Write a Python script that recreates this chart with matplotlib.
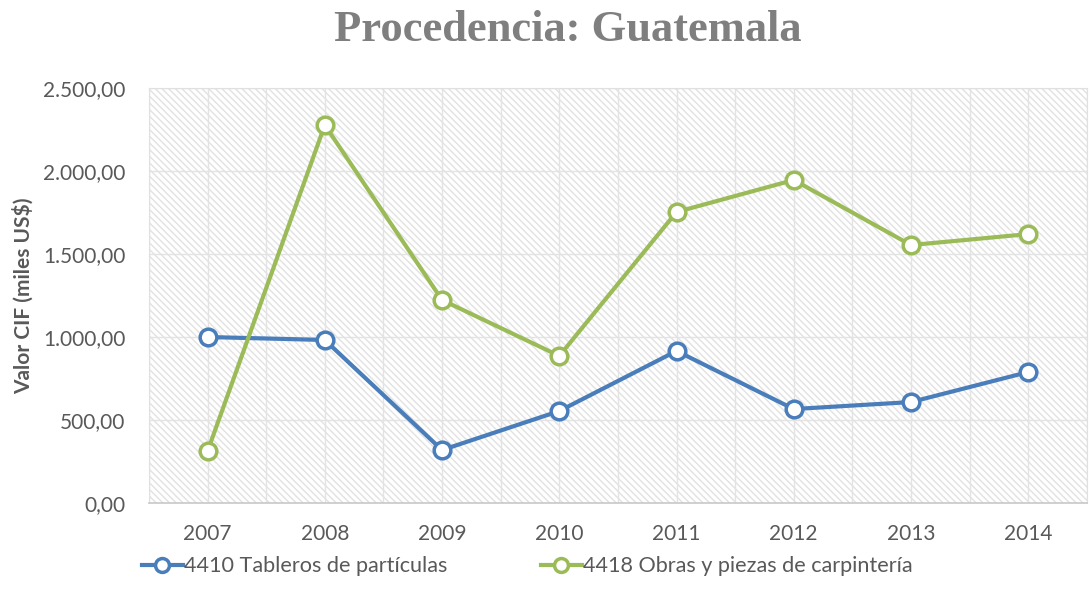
import matplotlib.pyplot as plt
from matplotlib.patches import Rectangle
from matplotlib.lines import Line2D
from matplotlib.ticker import FuncFormatter, MultipleLocator
import numpy as np

years = ['2007', '2008', '2009', '2010', '2011', '2012', '2013', '2014']
tableros = [1000, 982, 319, 554, 916, 566, 608, 789]
carpinteria = [313, 2277, 1223, 886, 1753, 1946, 1554, 1620]
label_tab = '4410 Tableros de partículas'
label_car = '4418 Obras y piezas de carpintería'

blue = '#4a7ebb'
green = '#9bbb59'
grey = '#595959'

plt.rcParams['font.family'] = ['Lato', 'DejaVu Sans']
plt.rcParams['hatch.linewidth'] = 1.0

fig = plt.figure(figsize=(10.89, 6.05), dpi=100)
ax = fig.add_axes([0.1368, 0.1686, 0.8612, 0.6859])

x = np.arange(len(years))
ax.set_xlim(-0.5, len(years) - 0.5)
ax.set_ylim(0, 2500)

# hatched background
bg = Rectangle((0, 0), 1, 1, transform=ax.transAxes, facecolor='white',
               edgecolor='#e2e2e2', hatch='\\\\\\\\\\', lw=0, zorder=0)
ax.add_patch(bg)

for v in np.arange(-0.5, len(years), 0.5):
    ax.axvline(v, color='#e3e3e3', lw=1, zorder=1)
for h in range(500, 2501, 500):
    ax.axhline(h, color='#e3e3e3', lw=1, zorder=1)

ax.plot(x, tableros, color=blue, lw=3, marker='o', ms=12, mfc='white',
        mec=blue, mew=2.5, zorder=3)
ax.plot(x, carpinteria, color=green, lw=3, marker='o', ms=12, mfc='white',
        mec=green, mew=2.5, zorder=3)

ax.yaxis.set_major_locator(MultipleLocator(500))
ax.yaxis.set_major_formatter(FuncFormatter(
    lambda v, p: f'{v:,.2f}'.replace(',', 'X').replace('.', ',').replace('X', '.')))
ax.set_xticks(x)
ax.set_xticklabels(years)
ax.tick_params(length=0, labelsize=15, labelcolor=grey)
ax.tick_params(axis='x', pad=15)
ax.tick_params(axis='y', pad=17)
for s in ax.spines.values():
    s.set_color('#e0e0e0')
ax.spines['bottom'].set_color('#c8c8c8')
ax.spines['bottom'].set_linewidth(1.2)

ax.set_ylabel('Valor CIF (miles US$)', fontsize=15, fontweight='bold',
              color=grey, labelpad=7)

fig.text(0.521, 0.951, 'Procedencia: Guatemala', ha='center', va='center',
         fontsize=32, fontweight='bold', color='#7f7f7f',
         family=['Liberation Serif', 'DejaVu Serif'])

handles = [Line2D([], [], color=blue, lw=3, marker='o', ms=10, mfc='white', mec=blue, mew=2.5),
           Line2D([], [], color=green, lw=3, marker='o', ms=10, mfc='white', mec=green, mew=2.5)]
fig.legend(handles, [label_tab, label_car], loc='center', bbox_to_anchor=(0.484, 0.064),
           ncol=2, frameon=False, fontsize=15.6, labelcolor=grey, handlelength=1.9,
           handletextpad=0.05, columnspacing=4.3)

fig.savefig('out.png', dpi=100)
